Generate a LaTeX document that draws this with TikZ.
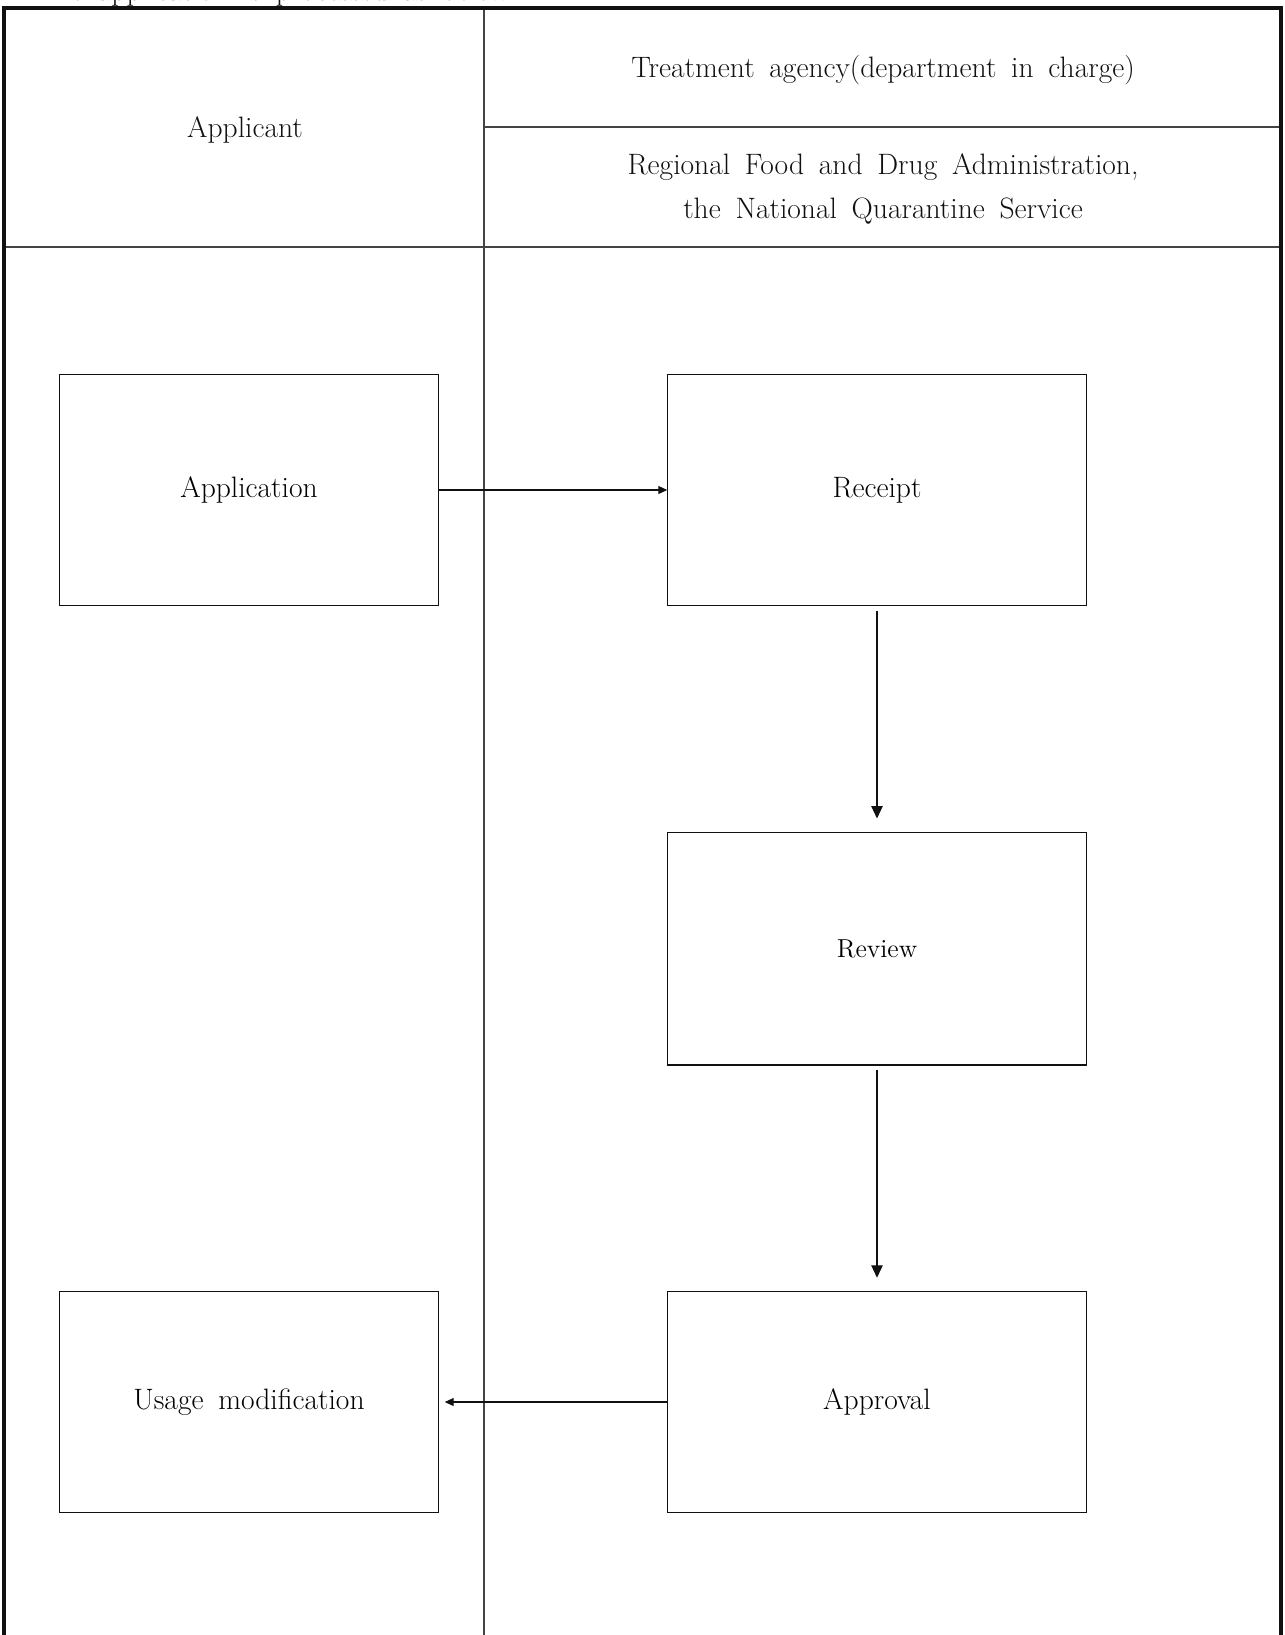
\documentclass[tikz,border=0pt]{standalone}
\usepackage{tikz}
\usetikzlibrary{arrows.meta,positioning}
\definecolor{FlowInk}{HTML}{111111}
\definecolor{FlowRule}{HTML}{444444}
\newcommand{\flowfont}{\fontsize{16.8}{25}\selectfont\spaceskip=0.5em plus 0.1em\relax}
\newcommand{\flowsmall}{\fontsize{14.8}{20}\selectfont\relax}

\begin{document}
\begin{tikzpicture}[x=0.02cm, y=-0.02cm,
  txt/.style={font=\flowfont, text=FlowInk, align=center, inner sep=0pt},
  stage/.style={draw=FlowInk, line width=0.6pt, minimum width=7.57cm,
                minimum height=4.61cm, inner sep=0pt, font=\flowfont},
  wide/.style={stage, minimum width=8.37cm},
  link/.style={-{Triangle[length=2.5mm, width=2.3mm]}, line width=0.6pt, draw=FlowInk},
  flat/.style={-{Triangle[length=1.8mm, width=1.6mm]}, line width=0.6pt, draw=FlowInk}
]
\useasboundingbox (0,0) rectangle (1284,1635);
% cut-off caption above the table
\node[txt, anchor=base west] (cap) at (36,1) {The application is processed as below.};
% frame and lanes
\draw[FlowRule, line width=0.6pt] (484,8) -- (484,1640);
\draw[FlowRule, line width=0.6pt] (484,127) -- (1282,127);
\draw[FlowRule, line width=0.6pt] (4,247) -- (1282,247);
\draw[FlowInk, line width=2pt] (4,1640) -- (4,8) -- (1281,8) -- (1281,1640);
% headers
\node[txt] (hApp) at (245,130) {Applicant};
\node[txt] (hAgency) at (883,70) {Treatment agency(department in charge)};
\node[txt] (hOffice) at (883,189) {Regional Food and Drug Administration,\\the National Quarantine Service};
% stages
\node[stage] (app) at (249,490) {Application};
\node[wide] (rcpt) at (877,490) {Receipt};
\node[wide, minimum height=4.66cm, font=\flowsmall] (rev) at (877,948.5) {Review};
\node[wide, minimum height=4.43cm] (appr) at (877,1402) {Approval};
\node[stage, minimum height=4.43cm] (usage) at (249,1402) {Usage modification};
% flow
\draw[flat] (app) -- (rcpt);
\draw[link, shorten <=0.1cm, shorten >=0.26cm] (rcpt) -- (rev);
\draw[link, shorten <=0.08cm, shorten >=0.26cm] (rev) -- (appr);
\draw[flat, shorten >=0.12cm] (appr) -- (usage);
\end{tikzpicture}
\end{document}
